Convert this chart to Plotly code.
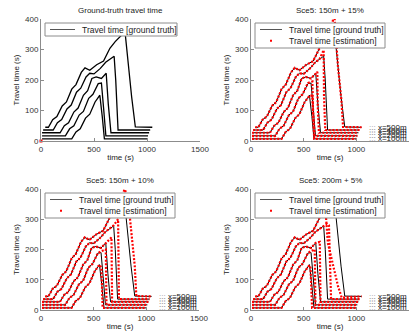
import plotly.graph_objects as go

W, H = 417, 332

# ---------------- data ----------------
titles = ["Ground-truth travel time", "Sce5: 150m + 15%", "Sce5: 150m + 10%", "Sce5: 200m + 5%"]
seg_labels = ["x=100m", "x=200m", "x=300m", "x=400m", "x=500m"]
baselines = [7, 17, 27, 36, 45]

# common rising part of each travel-time curve (time s, travel time s)
rise_t = [
    [10, 290, 330, 370, 420, 460, 510],
    [10, 230, 270, 310, 360, 400, 450, 490],
    [10, 180, 220, 260, 310, 350, 400, 440, 480, 520, 570],
    [20, 115, 155, 195, 245, 285, 335, 375, 425, 460, 500, 560, 610, 650],
    [40, 70, 110, 150, 200, 240, 290, 330, 380, 415, 460, 525, 590, 620, 650, 700],
]
rise_v = [
    [7, 7, 30, 40, 75, 88, 128],
    [17, 17, 40, 50, 85, 97, 140, 153],
    [27, 27, 50, 60, 95, 108, 150, 165, 205, 210, 205],
    [36, 36, 60, 70, 105, 118, 160, 173, 210, 222, 220, 238, 258, 268],
    [45, 45, 70, 80, 115, 128, 170, 185, 225, 240, 232, 250, 262, 282, 304, 326],
]

# ground truth: peak and drop
gt_tail_t = [
    [555, 578, 598, 1000],
    [540, 570, 590, 612, 1010],
    [615, 635, 660, 1020],
    [690, 705, 727, 1030],
    [760, 780, 795, 855, 890, 1050],
]
gt_tail_v = [
    [150, 80, 7, 7],
    [188, 190, 110, 17, 17],
    [222, 120, 27, 27],
    [278, 200, 36, 36],
    [347, 375, 350, 145, 46, 45],
]

# estimation tails for each scenario
est_tail_t = {
    "Sce5: 150m + 15%": [
        [560, 583, 590, 600, 1000],
        [540, 583, 590, 605, 1010],
        [630, 633, 645, 1020],
        [690, 693, 705, 1030],
        [760, 790, 800, 826, 858, 874, 1050],
    ],
    "Sce5: 150m + 10%": [
        [555, 574, 585, 1000],
        [540, 575, 615, 622, 1010],
        [615, 669, 675, 1020],
        [690, 732, 740, 1030],
        [760, 795, 842, 874, 890, 905, 1050],
    ],
    "Sce5: 200m + 5%": [
        [555, 565, 580, 1000],
        [540, 570, 605, 612, 1010],
        [615, 653, 660, 1020],
        [690, 720, 740, 760, 1030],
        [705, 730, 778, 826, 861, 1050],
    ],
}
est_tail_v = {
    "Sce5: 150m + 15%": [
        [150, 148, 60, 7, 7],
        [190, 195, 80, 17, 17],
        [227, 120, 27, 27],
        [298, 150, 36, 36],
        [360, 420, 360, 243, 134, 46, 45],
    ],
    "Sce5: 150m + 10%": [
        [150, 140, 7, 7],
        [188, 195, 200, 17, 17],
        [222, 240, 27, 27],
        [280, 300, 36, 36],
        [350, 405, 312, 201, 146, 46, 45],
    ],
    "Sce5: 200m + 5%": [
        [148, 140, 7, 7],
        [188, 195, 200, 17, 17],
        [222, 225, 27, 27],
        [278, 285, 280, 36, 36],
        [340, 221, 145, 79, 41, 45],
    ],
}

origin_mark_t = [0]
origin_mark_v = [0]

x_ticks = [0, 500, 1000, 1500]
y_ticks = [0, 100, 200, 300, 400]
label_t = 1100

# ---------------- layout geometry (pixels) ----------------
panels = [  # x0, x1, ytop, ybottom
    (41, 200, 19, 141),
    (251, 409, 19, 141),
    (41, 199, 189, 310),
    (251, 409, 189, 310),
]

def fx(p):
    return p / W

def fy(p):
    return 1 - p / H

FONT = "Liberation Sans, Arial, sans-serif"
RED = "#ff0000"

fig = go.Figure()
layout = dict(
    width=W, height=H, margin=dict(l=0, r=0, t=0, b=0),
    paper_bgcolor="white", plot_bgcolor="white", showlegend=False,
    font=dict(family=FONT, size=8, color="#222"),
)
shapes = []
annotations = []

for k, (x0, x1, yt, yb) in enumerate(panels):
    sfx = "" if k == 0 else str(k + 1)
    xa, ya = "x" + sfx, "y" + sfx
    layout["xaxis" + sfx] = dict(
        domain=[fx(x0), fx(x1)], anchor=ya, range=[0, 1500], tickvals=x_ticks,
        showgrid=False, zeroline=False, showline=True, linecolor="#8c8c8c", linewidth=1,
        ticks="inside", ticklen=3, tickcolor="#8c8c8c",
        tickfont=dict(size=8, color="#333"),
        title=dict(text="time (s)", font=dict(size=8, color="#222"), standoff=1),
        automargin=False,
    )
    layout["yaxis" + sfx] = dict(
        domain=[fy(yb), fy(yt)], anchor=xa, range=[0, 400], tickvals=y_ticks,
        showgrid=False, zeroline=False, showline=True, linecolor="#8c8c8c", linewidth=1,
        ticks="inside", ticklen=3, tickcolor="#8c8c8c",
        tickfont=dict(size=8, color="#333"),
        title=dict(text="Travel time (s)", font=dict(size=8, color="#222"), standoff=4),
        automargin=False,
    )

    title = titles[k]
    # ground truth curves
    for i in range(5):
        fig.add_trace(go.Scatter(
            x=rise_t[i] + gt_tail_t[i], y=rise_v[i] + gt_tail_v[i],
            mode="lines", line=dict(color="black", width=1.3 if k == 0 else 1.0),
            xaxis=xa, yaxis=ya, hoverinfo="skip"))
    if k == 0:
        fig.add_trace(go.Scatter(
            x=origin_mark_t, y=origin_mark_v, mode="markers", cliponaxis=False,
            marker=dict(color=RED, size=3, symbol="square"),
            xaxis=xa, yaxis=ya, hoverinfo="skip"))
    else:
        for i in range(5):
            fig.add_trace(go.Scatter(
                x=rise_t[i] + est_tail_t[title][i], y=rise_v[i] + est_tail_v[title][i],
                mode="lines", line=dict(color=RED, width=2.2, dash="2px,1.6px"),
                xaxis=xa, yaxis=ya, hoverinfo="skip"))
        for i in range(5):
            annotations.append(dict(
                x=label_t, y=baselines[i], xref=xa, yref=ya, xanchor="left", yanchor="middle",
                text="<span style='color:#9a9a9a'>:::</span> " + seg_labels[i],
                showarrow=False, font=dict(size=8, color="#222")))

    # subplot title
    annotations.append(dict(
        x=fx((x0 + x1) / 2), y=fy(yt - 9), xref="paper", yref="paper",
        xanchor="center", yanchor="middle", text=title, showarrow=False,
        font=dict(size=8, color="#222")))

    # legend box (drawn manually to match MATLAB compact legend)
    if k == 0:
        lx0, lx1, ly0, ly1 = x0 + 4, x0 + 136, yt + 4, yt + 17
        rows = [("line", "Travel time [ground truth]")]
        tx = x0 + 39
        sx0, sx1 = x0 + 9, x0 + 34
    else:
        lx0, lx1, ly0, ly1 = x0 + 4, x0 + 134, yt + 4, yt + 29
        rows = [("line", "Travel time [ground truth]"), ("dot", "Travel time [estimation]")]
        tx = x0 + 36
        sx0, sx1 = x0 + 9, x0 + 31
    shapes.append(dict(type="rect", xref="paper", yref="paper",
                       x0=fx(lx0), x1=fx(lx1), y0=fy(ly1), y1=fy(ly0),
                       fillcolor="white", line=dict(color="#8c8c8c", width=1), layer="above"))
    for r, (kind, txt) in enumerate(rows):
        cy = ly0 + 6.5 + r * 11.3
        if kind == "line":
            shapes.append(dict(type="line", xref="paper", yref="paper",
                               x0=fx(sx0), x1=fx(sx1), y0=fy(cy), y1=fy(cy),
                               line=dict(color="#555", width=1), layer="above"))
        else:
            cx = (sx0 + sx1) / 2
            shapes.append(dict(type="rect", xref="paper", yref="paper",
                               x0=fx(cx - 1), x1=fx(cx + 1), y0=fy(cy + 1), y1=fy(cy - 1),
                               fillcolor=RED, line=dict(width=0), layer="above"))
        annotations.append(dict(
            x=fx(tx), y=fy(cy), xref="paper", yref="paper", xanchor="left", yanchor="middle",
            text=txt, showarrow=False, font=dict(size=8.5, color="#222")))

layout["shapes"] = shapes
layout["annotations"] = annotations
fig.update_layout(**layout)
fig.write_html("out.html", config={"displayModeBar": False},
               post_script="document.body.style.margin='0px';")
